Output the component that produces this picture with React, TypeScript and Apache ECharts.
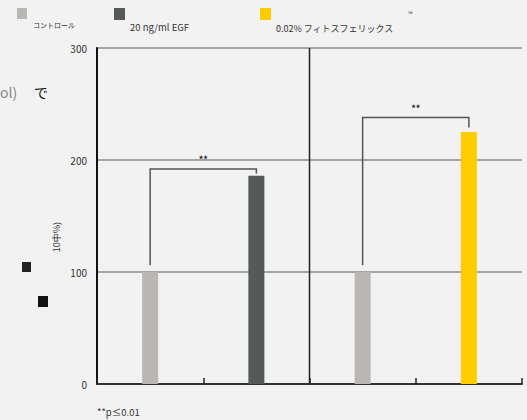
import React, { useEffect, useRef } from "react";
import * as echarts from "echarts";

const categories = ["コントロール", "20 ng/ml EGF", "コントロール ", "0.02% フィトスフェリックス"];
const values = [100, 186, 100, 225];
const barColors = ["#b9b7b4", "#555a58", "#b9b7b4", "#ffcc00"];
const legendNames = ["コントロール", "20 ng/ml EGF", "0.02% フィトスフェリックス"];
const legendColors = ["#b9b7b4", "#555a58", "#ffcc00"];
// [startCategory, endCategory, topValue, leftLegEnd, rightLegEnd]
const brackets = [
  [0, 1, 192, 106, 188],
  [2, 3, 238, 106, 229],
];
// divider between the two groups: [leftCategory, rightCategory, from, to]
const dividers = [[1, 2, 0, 300]];
const yTicks = [0, 100, 200, 300];
const sigLabel = "**";
const footnote = "**p≤0.01";

const FONT = "'Noto Sans CJK JP', 'Noto Sans', sans-serif";

export default function App() {
  const ref = useRef<HTMLDivElement>(null);
  useEffect(() => {
    document.body.style.margin = "0";
    document.body.style.background = "#f2f2f2";
    const chart = echarts.init(ref.current!, undefined, { renderer: "svg" });
    chart.setOption({
      animation: false,
      backgroundColor: "#f2f2f2",
      textStyle: { fontFamily: FONT },
      grid: { left: 97, right: 5, top: 48, bottom: 36 },
      xAxis: {
        type: "category",
        data: categories,
        boundaryGap: true,
        axisLine: { show: true, lineStyle: { color: "#333", width: 2 } },
        axisTick: { show: true, interval: 0, inside: true, length: 6, lineStyle: { color: "#222", width: 1.5 } },
        axisLabel: { show: false, interval: 0 },
        splitLine: { show: false },
      },
      yAxis: {
        type: "value",
        min: yTicks[0],
        max: yTicks[yTicks.length - 1],
        interval: 100,
        axisLine: { show: true, lineStyle: { color: "#111", width: 2 } },
        axisTick: { show: false },
        axisLabel: { color: "#333", fontSize: 10, margin: 10, fontFamily: FONT },
        splitLine: { show: true, lineStyle: { color: "#8a8a8a", width: 1.5 } },
      },
      series: [
        {
          type: "bar",
          barWidth: 16,
          data: values.map((v, i) => ({ value: v, itemStyle: { color: barColors[i] } })),
          z: 2,
        },
        {
          type: "custom",
          data: dividers,
          encode: { x: 0, y: 3 },
          z: 4,
          renderItem: (params: any, api: any) => {
            const a = api.coord([api.value(0), api.value(2)]);
            const b = api.coord([api.value(1), api.value(3)]);
            const x = (a[0] + b[0]) / 2;
            return {
              type: "line",
              shape: { x1: x, y1: a[1], x2: x, y2: b[1] },
              style: { stroke: "#222", lineWidth: 1.5 },
            };
          },
        },
        {
          type: "custom",
          data: brackets,
          encode: { x: 0, y: 2 },
          z: 5,
          renderItem: (params: any, api: any) => {
            const a = api.value(0);
            const b = api.value(1);
            const top = api.value(2);
            const p0 = api.coord([a, api.value(3)]);
            const p1 = api.coord([a, top]);
            const p2 = api.coord([b, top]);
            const p3 = api.coord([b, api.value(4)]);
            return {
              type: "group",
              children: [
                {
                  type: "polyline",
                  shape: { points: [p0, p1, p2, p3] },
                  style: { stroke: "#555", lineWidth: 1.5, fill: "none" },
                },
                {
                  type: "text",
                  x: (p1[0] + p2[0]) / 2,
                  y: p1[1] - 9,
                  style: {
                    text: sigLabel,
                    fill: "#222",
                    fontSize: 9,
                    fontWeight: "bold",
                    fontFamily: FONT,
                    align: "center",
                    verticalAlign: "middle",
                  },
                },
              ],
            };
          },
        },
      ],
      graphic: [
        { type: "rect", shape: { x: 17, y: 8, width: 10, height: 11 }, style: { fill: legendColors[0] } },
        { type: "text", x: 33, y: 25, style: { text: legendNames[0], fontSize: 7, fill: "#333", fontFamily: FONT, verticalAlign: "middle" } },
        { type: "rect", shape: { x: 114, y: 8, width: 11, height: 12 }, style: { fill: legendColors[1] } },
        { type: "text", x: 130, y: 27, style: { text: legendNames[1], fontSize: 9.5, fill: "#333", fontFamily: FONT, verticalAlign: "middle" } },
        { type: "rect", shape: { x: 260, y: 8, width: 11, height: 12 }, style: { fill: legendColors[2] } },
        { type: "text", x: 276, y: 28, style: { text: legendNames[2], fontSize: 9, fill: "#333", fontFamily: FONT, verticalAlign: "middle" } },
        { type: "text", x: 408, y: 13, style: { text: "™", fontSize: 6, fill: "#333", fontFamily: FONT, verticalAlign: "middle" } },
        { type: "text", x: 0, y: 92, style: { text: "ol)", fontSize: 14, fill: "#888", fontFamily: FONT, verticalAlign: "middle" } },
        { type: "text", x: 34, y: 92, style: { text: "で", fontSize: 14, fill: "#111", fontFamily: FONT, verticalAlign: "middle" } },
        {
          type: "text",
          x: 56,
          y: 237,
          rotation: Math.PI / 2,
          style: { text: "10中%)", fontSize: 9, fill: "#333", fontFamily: FONT, align: "center", verticalAlign: "middle" },
        },
        { type: "rect", shape: { x: 22, y: 262, width: 9, height: 10 }, style: { fill: "#222" } },
        { type: "rect", shape: { x: 38, y: 296, width: 10, height: 11 }, style: { fill: "#111" } },
        { type: "text", x: 97, y: 412, style: { text: footnote, fontSize: 9.5, fill: "#333", fontFamily: FONT, verticalAlign: "middle" } },
      ],
    });
    return () => chart.dispose();
  }, []);
  return (
    <div
      ref={ref}
      style={{ position: "absolute", left: 0, top: 0, width: 527, height: 420, background: "#f2f2f2" }}
    />
  );
}
